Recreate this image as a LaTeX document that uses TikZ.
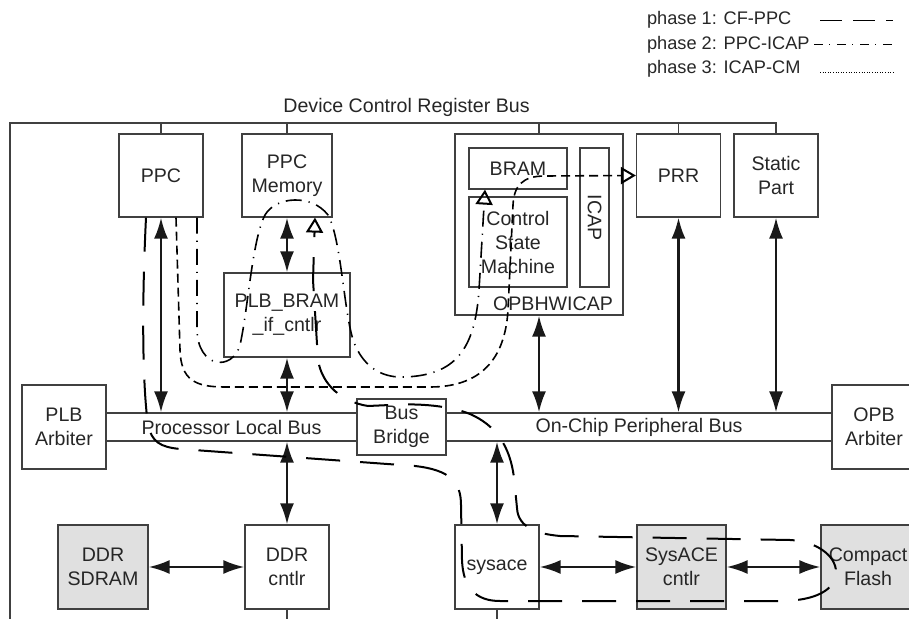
\documentclass[tikz,border=0pt]{standalone}
\usepackage{fontspec}
\setmainfont{Liberation Sans}
\usetikzlibrary{arrows.meta, positioning, calc}
\tikzset{
  block/.style={rectangle,draw=black!75,line width=0.6pt,minimum width=42pt,
    minimum height=41.5pt,inner sep=0pt,align=center},
  grayblock/.style={block,fill=black!12},
  busbox/.style={rectangle,draw=black!75,line width=0.6pt,minimum height=14pt,inner sep=0pt},
  legtext/.style={anchor=base west,font=\fontsize{9.1}{11}\selectfont},
  wire/.style={draw=black!75,line width=0.6pt},
  arrow/.style={{Latex[length=10.5pt,width=7pt]}-{Latex[length=10.5pt,width=7pt]},line width=1.2pt,draw=black!90},
  openhead/.style={-{Triangle[open,length=7.5pt,width=8.5pt,line width=1pt]}},
  phaseone/.style={line width=1pt,dash pattern=on 17pt off 10pt},
  phasetwo/.style={line width=0.8pt,dash pattern=on 8pt off 3.5pt on 0.6pt off 3.5pt},
  phasethree/.style={line width=0.8pt,dash pattern=on 4.5pt off 2.5pt},
  legone/.style={line width=0.6pt,dash pattern=on 11pt off 5.5pt},
  legtwo/.style={line width=0.6pt,dash pattern=on 4.5pt off 3pt on 0.5pt off 3.5pt},
  legthree/.style={line width=0.4pt,dash pattern=on 0.5pt off 0.8pt}
}

\begin{document}
\begin{tikzpicture}[x=0.5pt,y=-0.5pt,font=\fontsize{9.8}{12}\selectfont,text=black!85]
  \useasboundingbox (0,0) rectangle (909,619);

  % legend
  \node[legtext] (leg1) at (640,25) {phase 1: CF-PPC};
  \node[legtext] (leg2) at (640,49.5) {phase 2: PPC-ICAP};
  \node[legtext] (leg3) at (640,74) {phase 3: ICAP-CM};
  \coordinate (legx) at (820,0);
  \coordinate (legxx) at (814,0);
  \draw[legone] (legx |- leg1.east) -- ++(73,0);
  \draw[legtwo] (legxx |- leg2.east) -- ++(79,0);
  \draw[legthree] (legx |- leg3.base) ++(0,-2) -- ++(73,0);

  % top row
  \node[block] (ppc) at (161,175.5) {PPC};
  \node[block,minimum width=45pt] (ppcmem) at (287,175.5) {PPC\\Memory};
  \node[block,minimum width=63pt,minimum height=42pt] (plbbram) at (287,315) {PLB\_BRAM\\\_if\_cntlr};
  \node[block,minimum width=84pt,minimum height=90.5pt] (hwicap) at (539,224.5) {};
  \node (hwicaptext) at ($(hwicap.south)+(14,-12)$) {OPBHWICAP};
  \node[block,minimum width=49pt,minimum height=20.5pt] (bram) at (518,168.5) {BRAM};
  \node[block,minimum width=49pt,minimum height=45pt] (csm) at (518,242) {Control\\State\\Machine};
  \node[block,rotate=-90,minimum width=69.5pt,minimum height=14.5pt] (icap) at (594.5,217.5) {ICAP};
  \node[block] (prr) at (678.5,175.5) {PRR};
  \node[block] (static) at (776,175.5) {Static\\Part};

  % device control register bus
  \coordinate (dcrtop) at (10,123);
  \coordinate (dcrbot) at (10,619);
  \draw[wire] (dcrbot) -- (dcrtop) -| (static.north);
  \foreach \n in {ppc,ppcmem,hwicap,prr}
    \draw[wire] (\n.north) -- (\n.north |- dcrtop);
  \node[anchor=base] (dcrlabel) at (406.5,113) {Device Control Register Bus};

  % bus row
  \node[block,minimum height=42pt] (plbarb) at (64,427) {PLB\\Arbiter};
  \node[busbox,minimum width=125.5pt] (plb) at (231.5,427) {Processor Local Bus};
  \node[block,minimum width=44.5pt,minimum height=28pt] (bridge) at (401.5,427) {Bus\\Bridge};
  \node[busbox,minimum width=193pt] (opb) at (639,427) {On-Chip Peripheral Bus};
  \node[block,minimum height=42pt] (opbarb) at (874,427) {OPB\\Arbiter};

  % bottom row
  \node[grayblock,minimum width=45pt,minimum height=42pt] (ddrsdram) at (103,567) {DDR\\SDRAM};
  \node[block,minimum height=42pt] (ddrcntlr) at (287,567) {DDR\\cntlr};
  \node[block,minimum height=42pt] (sysace) at (497,567) {sysace};
  \node[grayblock,minimum width=44.5pt,minimum height=42pt] (sysacecntlr) at (681.5,567) {SysACE\\cntlr};
  \node[grayblock,minimum width=47pt,minimum height=42pt] (cf) at (868,567) {Compact\\Flash};
  \draw[wire] (ddrcntlr.south) -- (ddrcntlr.south |- dcrbot);
  \draw[wire] (sysace.south) -- (sysace.south |- dcrbot);

  % data links
  \draw[arrow] (ppc.south) -- (ppc.south |- plb.north);
  \draw[arrow] (ppcmem) -- (plbbram);
  \draw[arrow] (plbbram.south) -- (plbbram.south |- plb.north);
  \draw[arrow] (ddrcntlr.north |- plb.south) -- (ddrcntlr.north);
  \draw[arrow] (ddrsdram) -- (ddrcntlr);
  \draw[arrow] (hwicap.south) -- (hwicap.south |- opb.north);
  \draw[arrow] (prr.south) -- (prr.south |- opb.north);
  \draw[arrow] (static.south) -- (static.south |- opb.north);
  \draw[arrow] (sysace.north |- opb.south) -- (sysace.north);
  \draw[arrow] (sysace) -- (sysacecntlr);
  \draw[arrow] (sysacecntlr) -- (cf);

  % phase 1: CF-PPC
  \draw[phaseone,openhead] ([xshift=-7.5pt]ppc.south)
    .. controls (142,300) and (142,380) .. (148,425)
    .. controls (152,442) and (160,447) .. (180,449)
    -- (415,466)
    .. controls (450,470) and (461,482) .. (461,505)
    -- (462,560)
    .. controls (463,588) and (476,601) .. (500,601)
    -- (780,601)
    .. controls (815,601) and (836,590) .. (836,572)
    .. controls (836,555) and (815,541) .. (790,540)
    -- (560,536)
    .. controls (538,534) and (518,528) .. (517,508)
    -- (514,478)
    .. controls (510,445) and (495,425) .. (470,414)
    .. controls (450,406) and (420,403) .. (390,405)
    -- (368,406)
    .. controls (342,402) and (322,385) .. (318,360)
    -- (313,280)
    -- ([xshift=14pt]ppcmem.south);

  % phase 2: PPC-ICAP
  \draw[phasetwo,openhead] ([xshift=18pt]ppc.south) -- (197,330)
    .. controls (198,368) and (232,372) .. (240,345)
    .. controls (248,310) and (252,240) .. (265,215)
    .. controls (276,196) and (312,194) .. (328,215)
    .. controls (342,240) and (344,320) .. (355,345)
    .. controls (366,370) and (385,378) .. (405,377)
    .. controls (455,375) and (475,350) .. (479,290)
    -- ([xshift=-16.5pt]bram.south);

  % phase 3: ICAP-CM
  \draw[phasethree,openhead] ([xshift=7.5pt]ppc.south) -- (180,350)
    .. controls (181,380) and (195,387) .. (225,387)
    -- (430,387)
    .. controls (480,387) and (505,360) .. (508,310)
    -- (513,205)
    .. controls (514,186) and (522,176) .. (545,176)
    -- (prr.west);
\end{tikzpicture}
\end{document}
